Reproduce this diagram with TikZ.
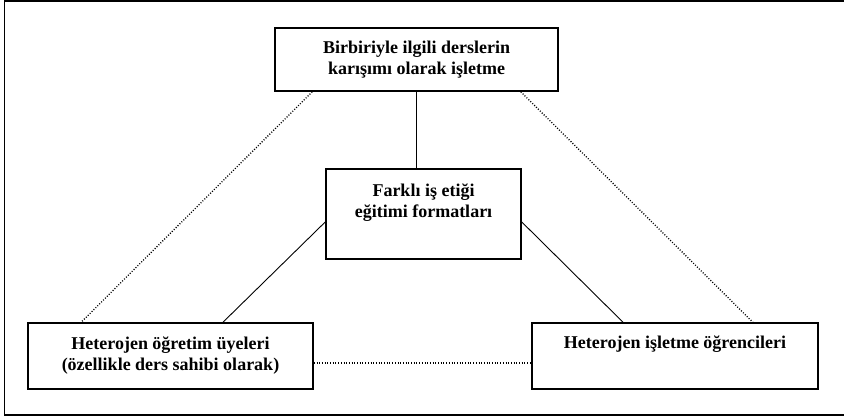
\documentclass[tikz,border=0pt]{standalone}
\usepackage{fontspec}
\setmainfont{Liberation Serif}
\begin{document}
\begin{tikzpicture}[x=1pt,y=-1pt,
  box/.style={draw=black, line width=1.6pt, inner sep=0pt, align=center,
    font=\bfseries\fontsize{18}{21}\selectfont},
  solidlink/.style={draw=black, line width=0.9pt},
  dotlink/.style={draw=black, line width=1.3pt, dash pattern=on 1pt off 1.7pt}]
\useasboundingbox (0,0) rectangle (844,416);
\fill[white] (0,0) rectangle (844,416);
\draw[line width=1.8pt, color=black] (4.5,1) rectangle (852,415);
\node[box, minimum width=283pt, minimum height=63pt] (top) at (416.5,59.5)
  {Birbiriyle ilgili derslerin\\karışımı olarak işletme};
\node[box, minimum width=195pt, minimum height=90pt] (mid) at (423.5,214)
  {Farklı iş etiği\\eğitimi formatları\\\strut};
\node[box, minimum width=285pt, minimum height=66pt] (bl) at (170.5,356)
  {Heterojen öğretim üyeleri\\(özellikle ders sahibi olarak)};
\node[box, minimum width=286pt, minimum height=66pt] (br) at (675,356)
  {Heterojen işletme öğrencileri\\\strut};
\draw[solidlink] (top.south) -- (top.south |- mid.north);
\draw[solidlink] ([yshift=-8pt]mid.west) -- ([xshift=52.5pt]bl.north);
\draw[solidlink] ([yshift=-8pt]mid.east) -- ([xshift=-52pt]br.north);
\draw[dotlink] ([xshift=38pt]top.south west) -- ([xshift=54pt]bl.north west);
\draw[dotlink] ([xshift=-38pt]top.south east) -- ([xshift=-66pt]br.north east);
\draw[dotlink] ([yshift=-7pt]bl.east) -- ([yshift=-7pt]br.west);
\end{tikzpicture}
\end{document}
